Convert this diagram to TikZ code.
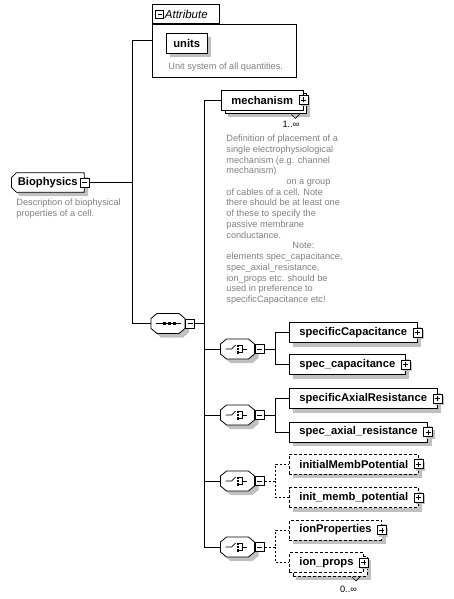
\documentclass[tikz,border=0pt]{standalone}
\usepackage{fontspec}
\setmainfont{Liberation Sans}
\usetikzlibrary{positioning, shapes.misc, shadows, calc}

\definecolor{descgray}{RGB}{128,128,128}
\definecolor{shadegray}{RGB}{192,192,192}

\newcommand{\namefont}{\fontsize{11.2}{13}\selectfont\bfseries}
\newcommand{\descfont}{\fontsize{9.2}{10.73}\selectfont}

\tikzset{
  boxbase/.style={draw, fill=white, anchor=west, minimum height=20pt,
    inner xsep=10pt, inner ysep=0pt, font=\namefont},
  elem/.style={boxbase,
    drop shadow={shadow xshift=4pt, shadow yshift=-4pt, fill=shadegray, opacity=1}},
  manyelem/.style={boxbase,
    drop shadow={shadow xshift=7pt, shadow yshift=-7pt, fill=shadegray, opacity=1},
    copy shadow={shadow xshift=3.5pt, shadow yshift=-3.5pt}},
  optional/.style={dash pattern=on 3pt off 2pt},
  optline/.style={dash pattern=on 2pt off 2pt},
  expbox/.style={draw, fill=white, minimum size=9pt, inner sep=0pt},
  plus/.style={expbox,
    drop shadow={shadow xshift=2pt, shadow yshift=-2pt, fill=shadegray, opacity=1},
    path picture={
      \draw ($(path picture bounding box.west)+(2,0)$) -- ($(path picture bounding box.east)+(-2,0)$);
      \draw ($(path picture bounding box.north)+(0,2)$) -- ($(path picture bounding box.south)+(0,-2)$);}},
  minus/.style={expbox, path picture={
      \draw ($(path picture bounding box.west)+(2,0)$) -- ($(path picture bounding box.east)+(-2,0)$);}},
  % compositor: octagon drawn round an empty node
  compbox/.style={minimum width=34pt, minimum height=20pt, inner sep=0pt,
    append after command={\pgfextra{\let\compnode\tikzlastnode
      \fill[shadegray] ($(\compnode.center)+(4,4)$) ++(-17,-5) -- ++(6,-5) -- ++(22,0)
        -- ++(6,5) -- ++(0,10) -- ++(-6,5) -- ++(-22,0) -- ++(-6,-5) -- cycle;
      \filldraw[fill=white] (\compnode.center) ++(-17,-5) -- ++(6,-5) -- ++(22,0)
        -- ++(6,5) -- ++(0,10) -- ++(-6,5) -- ++(-22,0) -- ++(-6,-5) -- cycle;}}},
  seqicon/.style={append after command={\pgfextra{\let\iconnode\tikzlastnode
      \draw[line width=0.7pt] ($(\iconnode.center)+(-12,0)$) -- ($(\iconnode.center)+(13,0)$);
      \fill[black] ($(\iconnode.center)+(-5.5,-1.5)$) rectangle ++(3,3);
      \fill[black] ($(\iconnode.center)+(-0.5,-1.5)$) rectangle ++(3,3);
      \fill[black] ($(\iconnode.center)+(4.5,-1.5)$) rectangle ++(3,3);}}},
  choiceicon/.style={append after command={\pgfextra{\let\iconnode\tikzlastnode
      \draw[line width=0.7pt] ($(\iconnode.center)+(-12,0)$) -- ++(6,0) -- ++(4,-4);
      \fill[black] ($(\iconnode.center)+(-1,-4.5)$) rectangle ++(2.5,2.5);
      \fill[black] ($(\iconnode.center)+(-1,-1.25)$) rectangle ++(2.5,2.5);
      \fill[black] ($(\iconnode.center)+(-1,2)$) rectangle ++(2.5,2.5);
      \draw[line width=0.7pt] ($(\iconnode.center)+(1.5,-3.25)$) -- ++(3.5,0) -- ++(0,6.5) -- ++(-3.5,0);
      \draw[line width=0.7pt] ($(\iconnode.center)+(5,0)$) -- ++(4,0);}}},
  desc/.style={font=\descfont, text=descgray, align=left, inner sep=0pt, anchor=north west},
  occ/.style={font=\descfont, inner sep=0pt},
}

\begin{document}
\begin{tikzpicture}[x=1pt, y=-1pt, line width=0.8pt]
    \useasboundingbox (0,0) rectangle (454,599);

    % Root element
    \node[elem, chamfered rectangle, chamfered rectangle corners={north west,south west},
      chamfered rectangle sep=2.5pt, inner xsep=4pt, inner ysep=2pt,
      minimum height=0pt] (bio) at (11,182.5) {Biophysics\hspace{7pt}};
    \node[minus] (biom) at (bio.east) {};
    \node[desc] (biodesc) at (16,198.5) {Description of biophysical\\properties of a cell.};

    % Attribute group
    \node[draw, fill=white, anchor=north west, minimum width=144pt, minimum height=53pt,
      inner sep=0pt] (attrbox) at (152,24) {};
    \node[draw, fill=white, anchor=south west, minimum width=67pt, minimum height=19pt,
      inner sep=0pt] (attrtab) at (152,24) {};
    \node[minus, minimum size=8pt] (attrm) at (159.5,14.5) {};
    \node[font=\fontsize{11.5}{13}\selectfont\itshape, anchor=west, inner sep=0pt] (attrlabel) at (164.5,14.5) {Attribute};
    \node[elem, anchor=north west, inner xsep=7pt] (units) at (166,33) {units\hspace{9pt}};
    \node[desc, anchor=west] (unitsdesc) at (168,67) {Unit system of all quantities.};

    % Sequence
    \node[compbox, seqicon] (seq) at (168,323.5) {};
    \node[minus, anchor=west] (seqm) at (seq.east) {};

    % mechanism
    \node[manyelem] (mech) at (221,100) {mechanism\hspace{2pt}};
    \node[plus] (mechp) at (mech.east) {};
    \node[occ] (mechocc) at (291,124) {1..∞};
    \node[desc] (mechdesc) at (226,134.5) {Definition of placement of a\\
      single electrophysiological\\
      mechanism (e.g. channel\\
      mechanism)\\
      \hspace*{60pt}on a group\\
      of cables of a cell. Note\\
      there should be at least one\\
      of these to specify the\\
      passive membrane\\
      conductance.\\
      \hspace*{66pt}Note:\\
      elements spec\_capacitance,\\
      spec\_axial\_resistance,\\
      ion\_props etc. should be\\
      used in preference to\\
      specificCapacitance etc!};

    % Choices
    \node[compbox, choiceicon] (ch1) at (237.5,349) {};
    \node[minus, anchor=west] (ch1m) at (ch1.east) {};
    \node[compbox, choiceicon] (ch2) at (237.5,415) {};
    \node[minus, anchor=west] (ch2m) at (ch2.east) {};
    \node[compbox, choiceicon] (ch3) at (237.5,481) {};
    \node[minus, anchor=west] (ch3m) at (ch3.east) {};
    \node[compbox, choiceicon] (ch4) at (237.5,547) {};
    \node[minus, anchor=west] (ch4m) at (ch4.east) {};

    % Elements of the choices
    \node[elem] (spcap) at (289,332.5) {specificCapacitance\hspace{2pt}};
    \node[plus] (spcapp) at (spcap.east) {};
    \node[elem] (scap) at (289,364.5) {spec\_capacitance\hspace{2pt}};
    \node[plus] (scapp) at (scap.east) {};
    \node[elem] (spaxr) at (289,398.5) {specificAxialResistance\hspace{2pt}};
    \node[plus] (spaxrp) at (spaxr.east) {};
    \node[elem] (saxr) at (289,432) {spec\_axial\_resistance\hspace{2pt}};
    \node[plus] (saxrp) at (saxr.east) {};
    \node[elem, optional] (initmp) at (289,464) {initialMembPotential\hspace{2pt}};
    \node[plus] (initmpp) at (initmp.east) {};
    \node[elem, optional] (imp) at (289,497.5) {init\_memb\_potential\hspace{2pt}};
    \node[plus] (impp) at (imp.east) {};
    \node[elem, optional] (ionpr) at (289,530) {ionProperties\hspace{2pt}};
    \node[plus] (ionprp) at (ionpr.east) {};
    \node[manyelem, optional] (ionp) at (289,562.5) {ion\_props\hspace{2pt}};
    \node[plus] (ionpp) at (ionp.east) {};
    \node[occ] (ionpocc) at (348.5,589) {0..∞};

    % Occurrence marks
    \draw[line width=0.6pt] ($(mech.south east)+(-12,4)$) -- ($(mech.south east)+(-8,8)$) -- ($(mech.south east)+(-4,4)$);
    \draw[line width=0.6pt] ($(ionp.south east)+(-12,4)$) -- ($(ionp.south east)+(-8,8)$) -- ($(ionp.south east)+(-4,4)$);

    % Junctions
    \coordinate (j1) at ($(biom.east)+(43,0)$);
    \coordinate (j2) at ($(seqm.east)+(9,0)$);
    \coordinate (attrin) at (152,40);
    \coordinate (k1) at ($(ch1m.east)+(11,0)$);
    \coordinate (k2) at ($(ch2m.east)+(11,0)$);
    \coordinate (k3) at ($(ch3m.east)+(11,0)$);
    \coordinate (k4) at ($(ch4m.east)+(11,0)$);

    % Draw connectors
    \draw (biom.east) -- (j1);
    \draw (j1) |- (attrin);
    \draw (j1) |- (seq.west);
    \draw (seqm.east) -- (j2);
    \draw (j2) |- (mech.west);
    \draw (j2) |- (ch1.west);
    \draw (j2) |- (ch2.west);
    \draw (j2) |- (ch3.west);
    \draw (j2) |- (ch4.west);
    \draw (ch1m.east) -- (k1) |- (spcap.west);
    \draw (k1) |- (scap.west);
    \draw (ch2m.east) -- (k2) |- (spaxr.west);
    \draw (k2) |- (saxr.west);
    \draw[optline] (ch3m.east) -- (k3) |- (initmp.west);
    \draw[optline] (k3) |- (imp.west);
    \draw[optline] (ch4m.east) -- (k4) |- (ionpr.west);
    \draw[optline] (k4) |- (ionp.west);
\end{tikzpicture}
\end{document}
